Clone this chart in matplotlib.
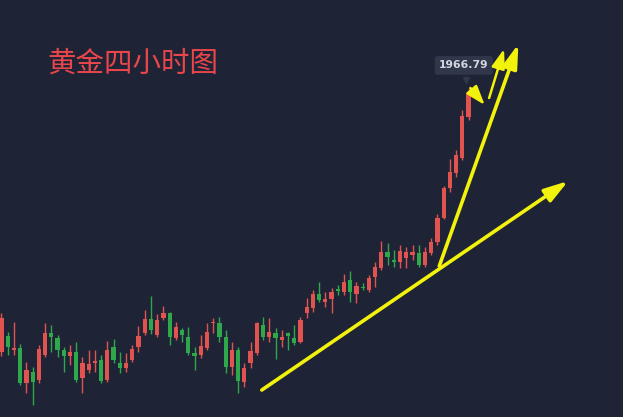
import matplotlib
matplotlib.use("Agg")
import matplotlib.pyplot as plt
import numpy as np

# 4h gold candles (red = up, green = down)
opens = [1837.3, 1845.3, 1838.3, 1839.3, 1821.8, 1827.3, 1823.3, 1835.8, 1846.8, 1844.3,
         1838.3, 1835.3, 1837.3, 1824.3, 1828.3, 1831.8, 1833.3, 1823.3, 1839.8, 1831.8,
         1829.3, 1833.3, 1839.8, 1846.8, 1853.8, 1845.8, 1854.3, 1856.8, 1844.3, 1848.3,
         1844.8, 1836.8, 1835.8, 1839.3, 1851.8, 1851.8, 1844.8, 1829.8, 1838.3, 1822.3,
         1831.8, 1836.8, 1850.8, 1844.8, 1846.8, 1843.3, 1846.8, 1844.3, 1842.3, 1856.8,
         1859.3, 1866.3, 1862.3, 1863.8, 1868.8, 1867.3, 1873.3, 1866.3, 1869.8, 1868.3,
         1874.8, 1879.3, 1887.3, 1883.3, 1882.3, 1884.3, 1885.8, 1886.8, 1880.8, 1886.8,
         1892.3, 1904.3, 1919.3, 1926.8, 1934.3, 1954.8]
highs = [1856.8, 1847.3, 1852.3, 1841.3, 1832.3, 1829.8, 1840.8, 1851.8, 1850.8, 1845.8,
         1839.8, 1840.8, 1842.3, 1834.8, 1838.3, 1838.3, 1835.8, 1842.8, 1843.8, 1837.3,
         1836.8, 1840.8, 1850.3, 1858.3, 1865.3, 1856.3, 1860.3, 1857.3, 1852.3, 1849.3,
         1849.8, 1839.8, 1845.8, 1851.8, 1854.3, 1854.8, 1848.3, 1842.3, 1839.8, 1831.8,
         1842.3, 1852.3, 1854.8, 1854.3, 1849.3, 1848.3, 1847.3, 1850.8, 1854.8, 1864.3,
         1868.3, 1872.3, 1867.3, 1869.3, 1870.8, 1876.3, 1877.8, 1872.3, 1871.8, 1875.8,
         1882.3, 1892.8, 1891.8, 1888.3, 1890.8, 1889.8, 1890.8, 1890.8, 1889.8, 1894.3,
         1906.3, 1920.3, 1933.8, 1938.3, 1958.3, 1969.3]
lows = [1835.3, 1835.8, 1835.8, 1820.8, 1816.8, 1810.8, 1821.8, 1834.8, 1837.3, 1834.8,
        1827.3, 1830.8, 1822.3, 1816.8, 1826.8, 1827.3, 1821.8, 1822.3, 1831.8, 1826.8,
        1827.3, 1832.3, 1837.3, 1845.8, 1846.3, 1844.8, 1853.3, 1840.8, 1843.3, 1842.3,
        1835.8, 1828.3, 1834.3, 1838.3, 1846.8, 1842.3, 1826.8, 1825.8, 1816.8, 1819.8,
        1829.3, 1835.8, 1843.3, 1842.3, 1833.8, 1839.8, 1838.3, 1840.8, 1841.8, 1854.3,
        1857.3, 1862.3, 1859.8, 1856.8, 1865.8, 1865.8, 1862.3, 1861.8, 1868.3, 1867.3,
        1869.8, 1878.3, 1880.8, 1879.8, 1879.3, 1879.3, 1883.3, 1879.8, 1879.8, 1885.8,
        1890.8, 1903.8, 1917.3, 1924.8, 1933.3, 1953.3]
closes = [1854.3, 1839.8, 1839.3, 1821.8, 1828.3, 1822.3, 1838.8, 1846.8, 1844.8, 1838.3,
          1835.3, 1837.3, 1823.3, 1831.8, 1831.3, 1832.8, 1822.8, 1838.3, 1833.3, 1829.3,
          1831.8, 1838.8, 1845.3, 1853.8, 1848.3, 1853.3, 1856.8, 1844.8, 1849.8, 1845.8,
          1836.8, 1835.3, 1840.3, 1847.3, 1852.3, 1844.8, 1829.8, 1838.3, 1822.8, 1829.3,
          1837.8, 1851.8, 1844.8, 1847.3, 1844.3, 1844.8, 1845.3, 1841.8, 1853.3, 1859.8,
          1866.3, 1863.3, 1863.8, 1867.3, 1867.8, 1872.3, 1867.3, 1870.3, 1869.3, 1874.3,
          1879.8, 1887.3, 1884.8, 1882.3, 1887.8, 1887.3, 1887.3, 1880.8, 1887.3, 1892.3,
          1904.3, 1919.3, 1927.3, 1935.8, 1955.3, 1966.8]

last_price = "1966.79"
title = "黄金四小时图"

# hand-drawn yellow arrows: (start x, start price, end x, end price)
arrow_long = (41.8, 1818.3, 91.0, 1922.8)
arrow_steep = (70.3, 1880.3, 83.0, 1991.3)
arrow_thin = (78.3, 1964.3, 80.7, 1988.8)
arrow_down = (75.3, 1969.3, 77.6, 1960.8)

bg = "#1e2336"
up_color = "#e0534f"
down_color = "#2ea84a"
yellow = "#f2f20c"

fig = plt.figure(figsize=(6.23, 4.17), dpi=100)
fig.patch.set_facecolor(bg)
ax = fig.add_axes([0, 0, 1, 1])
ax.set_facecolor(bg)

x = np.arange(len(opens))
o = np.array(opens)
c = np.array(closes)
colors = [up_color if cc >= oo else down_color for oo, cc in zip(o, c)]

ax.vlines(x, lows, highs, colors=colors, linewidth=1.0, zorder=2)
bottoms = np.minimum(o, c)
heights = np.maximum(np.abs(c - o), 0.6)
ax.bar(x, heights, bottom=bottoms, width=0.68, color=colors, zorder=3)

# price tag above the last candle
ax.text(x[-1] - 0.75, highs[-1] + 11.3, last_price, ha="center", va="center",
        fontsize=7.8, fontweight="bold", color="#d2d6e0", zorder=5,
        bbox=dict(boxstyle="round,pad=0.4,rounding_size=0.3",
                  facecolor="#30374a", edgecolor="none"))
ax.plot([x[-1] - 0.4], [highs[-1] + 4.2], marker="v", color="#30374a",
        markersize=5, zorder=5)

for x0, y0, x1, y1 in [arrow_long, arrow_steep]:
    ax.annotate("", xy=(x1, y1), xytext=(x0, y0),
                arrowprops=dict(arrowstyle="-|>,head_length=1.3,head_width=0.4",
                                color=yellow, lw=2.6, shrinkA=0, shrinkB=0,
                                mutation_scale=11), zorder=7)
for x0, y0, x1, y1 in [arrow_thin, arrow_down]:
    ax.annotate("", xy=(x1, y1), xytext=(x0, y0),
                arrowprops=dict(arrowstyle="-|>,head_length=1.3,head_width=0.45",
                                color=yellow, lw=1.8, shrinkA=0, shrinkB=0,
                                mutation_scale=9), zorder=7)

ax.text(47 / 623, 1 - 64 / 417, title, transform=ax.transAxes,
        fontsize=20.5, fontweight="medium", color="#e8464a", ha="left", va="center",
        family=["Noto Sans CJK SC", "DejaVu Sans"])

ax.set_xlim(-0.24, 99.8)
ax.set_ylim(1804.8, 2013.3)
ax.axis("off")

fig.savefig("out.png", dpi=100, facecolor=bg)
